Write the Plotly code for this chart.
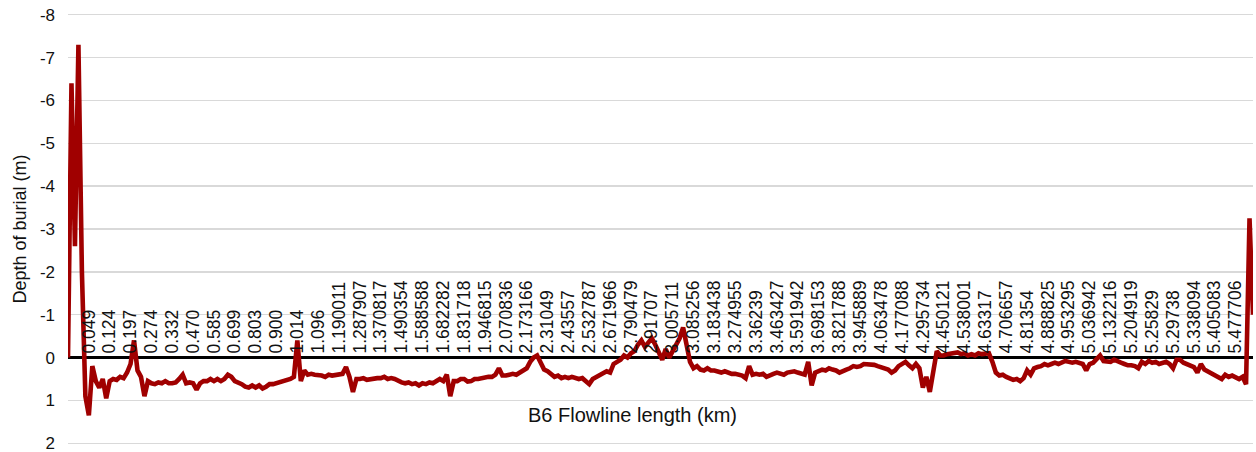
import plotly.graph_objects as go

# Category labels shown along the flowline (every 6th sample)
tick_labels = [
    "0.049", "0.124", "0.197", "0.274", "0.332", "0.470", "0.585", "0.699", "0.803", "0.900",
    "1.014", "1.096", "1.190011", "1.287907", "1.370817", "1.490354", "1.588588", "1.682282",
    "1.831718", "1.946815", "2.070836", "2.173166", "2.31049", "2.43557", "2.532787", "2.671966",
    "2.790479", "2.91707", "3.005711", "3.085256", "3.183438", "3.274955", "3.36239", "3.463427",
    "3.591942", "3.698153", "3.821788", "3.945889", "4.063478", "4.177088", "4.295734", "4.450121",
    "4.538001", "4.63317", "4.706657", "4.81354", "4.888825", "4.953295", "5.036942", "5.132216",
    "5.204919", "5.25829", "5.29738", "5.338094", "5.405083", "5.477706",
]
samples_per_label = 6

# Y axis ticks (depth, m)
y_ticks = [-8, -7, -6, -5, -4, -3, -2, -1, 0, 1, 2]
y_tick_text = [str(v) for v in y_ticks]

# Depth of burial (m), 6 samples per label interval
depth_m = [
    0, -6.4, -2.6, -7.3, -2.0, 0.9,
    1.35, 0.2, 0.55, 0.7, 0.5, 0.95,
    0.55, 0.5, 0.52, 0.45, 0.48, 0.35,
    0.15, -0.4, 0.3, 0.45, 0.9, 0.55,
    0.6, 0.62, 0.58, 0.6, 0.55, 0.6,
    0.6, 0.58, 0.5, 0.4, 0.6, 0.58,
    0.6, 0.75, 0.6, 0.55, 0.55, 0.5,
    0.55, 0.5, 0.55, 0.5, 0.4, 0.45,
    0.55, 0.58, 0.62, 0.68, 0.7, 0.65,
    0.7, 0.65, 0.72, 0.68, 0.62, 0.62,
    0.6, 0.58, 0.55, 0.52, 0.5, 0.45,
    -0.4, 0.55, 0.3, 0.4, 0.38, 0.4,
    0.4, 0.42, 0.45, 0.4, 0.42, 0.4,
    0.4, 0.38, 0.22, 0.45, 0.8, 0.5,
    0.5, 0.48, 0.52, 0.5, 0.5, 0.48,
    0.48, 0.45, 0.5, 0.48, 0.5, 0.55,
    0.58, 0.6, 0.58, 0.62, 0.6, 0.65,
    0.6, 0.62, 0.58, 0.6, 0.55, 0.5,
    0.55, 0.4, 0.9, 0.55, 0.55, 0.5,
    0.5, 0.56, 0.55, 0.5, 0.5, 0.48,
    0.48, 0.45, 0.45, 0.4, 0.25, 0.42,
    0.42, 0.4, 0.38, 0.4, 0.35, 0.32,
    0.25, 0.1, 0.0, -0.05, 0.15, 0.28,
    0.32, 0.38, 0.45, 0.42, 0.48, 0.45,
    0.48, 0.45, 0.48, 0.5, 0.48, 0.55,
    0.62, 0.5, 0.45, 0.4, 0.38, 0.32,
    0.35, 0.15, 0.1, 0.05, -0.05, 0.0,
    -0.1, -0.15, -0.3, -0.4, -0.25, -0.35,
    -0.45, -0.3, -0.1, 0.05, -0.2, 0.0,
    -0.15, -0.3, -0.45, -0.7, -0.35, 0.1,
    0.25, 0.2, 0.28, 0.3, 0.25, 0.3,
    0.3, 0.32, 0.35, 0.32, 0.35, 0.38,
    0.38, 0.4, 0.42, 0.48, 0.2, 0.4,
    0.38, 0.4, 0.38, 0.45, 0.4, 0.38,
    0.35, 0.38, 0.4, 0.35, 0.33, 0.32,
    0.35, 0.38, 0.4, 0.1, 0.65, 0.35,
    0.3, 0.28, 0.3, 0.25, 0.28, 0.3,
    0.35, 0.3, 0.28, 0.25, 0.2, 0.22,
    0.2, 0.15, 0.15, 0.15, 0.17, 0.2,
    0.22, 0.25, 0.28, 0.35, 0.3, 0.2,
    0.15, 0.1, 0.18, 0.25, 0.15, 0.25,
    0.7, 0.45, 0.8, 0.3, -0.15, -0.05,
    -0.05, -0.08, -0.1, -0.1, -0.12, -0.08,
    -0.1, -0.05, -0.08, -0.05, -0.1, -0.08,
    -0.08, -0.1, 0.1, 0.35, 0.42, 0.4,
    0.45, 0.5, 0.52, 0.5, 0.55, 0.48,
    0.3, 0.4, 0.25, 0.22, 0.2, 0.15,
    0.18, 0.15, 0.12, 0.15, 0.12, 0.08,
    0.1, 0.12, 0.1, 0.12, 0.15, 0.3,
    0.15, 0.12, 0.05, -0.05, 0.08, 0.1,
    0.1, 0.05, 0.1, 0.12, 0.15, 0.18,
    0.18, 0.2, 0.25, 0.1, 0.15, 0.08,
    0.12, 0.1, 0.15, 0.12, 0.1, 0.15,
    0.25, 0.05, 0.05, 0.12, 0.15, 0.2,
    0.22, 0.35, 0.15, 0.28, 0.32, 0.35,
    0.4, 0.45, 0.5, 0.4, 0.45, 0.42,
    0.45, 0.5, 0.45, 0.62, -3.25, -1.0,
]

# axis range padded slightly so the -8 and 2 grid lines are not dropped at the edges
y_min, y_max = -8.04, 2.04
sample_index = list(range(len(depth_m)))
tick_positions = [(i + 1) * samples_per_label for i in range(len(tick_labels))]

FONT = "Liberation Sans, Arial, sans-serif"
TXT = "#111111"

fig = go.Figure()
fig.add_trace(go.Scatter(
    x=sample_index, y=depth_m, mode="lines",
    line=dict(color="#A00000", width=4.6),
    showlegend=False, hoverinfo="skip",
))

fig.update_layout(
    width=1256, height=452,
    margin=dict(l=68, r=3, t=13, b=7),
    paper_bgcolor="white", plot_bgcolor="white",
    font=dict(family=FONT, size=16, color=TXT),
    xaxis=dict(
        range=[0, len(depth_m) - 1],
        anchor="free", position=(0 - y_max) / (y_min - y_max), side="top",
        tickmode="array", tickvals=tick_positions, ticktext=tick_labels,
        tickangle=-90, ticks="", showgrid=False, zeroline=False, showline=False,
        tickfont=dict(family=FONT, size=17.5, color=TXT),
        ticklabelstandoff=4, automargin=False,
    ),
    yaxis=dict(
        range=[y_max, y_min],
        tickmode="array", tickvals=y_ticks, ticktext=y_tick_text,
        showgrid=True, gridcolor="#d9d9d9", gridwidth=1.3,
        zeroline=True, zerolinecolor="#000000", zerolinewidth=3.5,
        showline=False, ticks="",
        tickfont=dict(family=FONT, size=17, color=TXT),
        ticklabelstandoff=12, ticklabeloverflow="allow",
        title=dict(text="Depth of burial (m)", font=dict(family=FONT, size=18, color=TXT), standoff=8),
        automargin=False,
    ),
    annotations=[dict(
        text="B6 Flowline length (km)", xref="paper", yref="paper",
        x=0.476, y=0.07, xanchor="center", yanchor="middle", showarrow=False,
        font=dict(family=FONT, size=20, color=TXT),
    )],
)

fig.write_html(
    "out.html",
    config={"displayModeBar": False, "staticPlot": True},
    post_script="document.body.style.margin='0';",
)
